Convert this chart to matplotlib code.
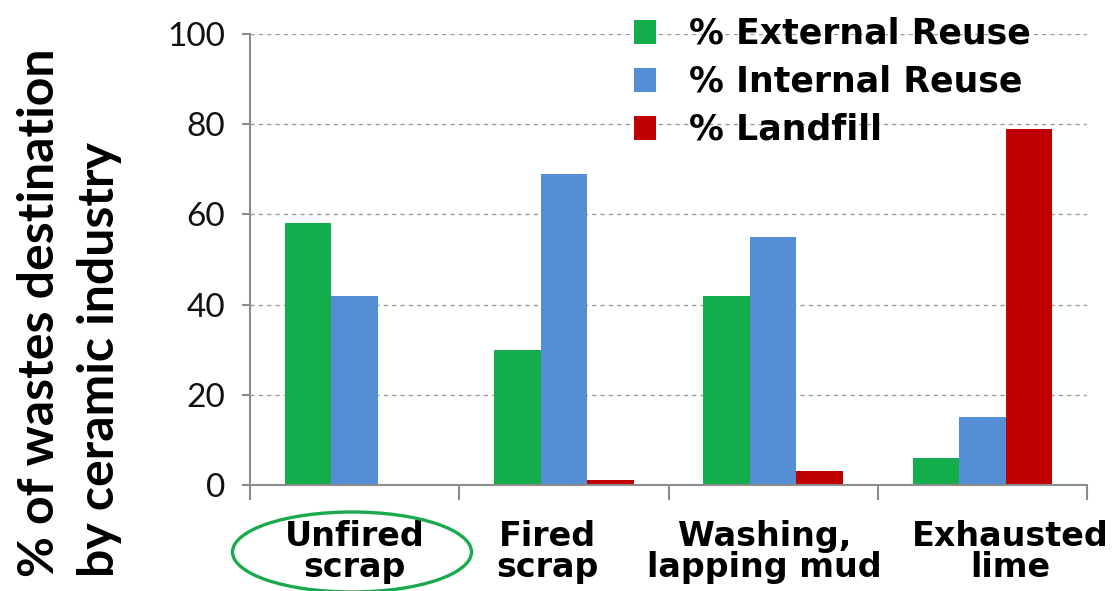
import matplotlib.pyplot as plt
from matplotlib.patches import Ellipse
from matplotlib.transforms import blended_transform_factory
import numpy as np

categories = ['Unfired\nscrap', 'Fired\nscrap', 'Washing,\nlapping mud', 'Exhausted\nlime']
label_shift = [0.0, -0.077, -0.04, 0.134]
external_reuse = [58, 30, 42, 6]
internal_reuse = [42, 69, 55, 15]
landfill = [0, 1, 3, 79]
series_labels = ['% External Reuse', '% Internal Reuse', '% Landfill']
colors = ['#14ad4c', '#558ed5', '#c00000']

fig = plt.figure(figsize=(11.19, 5.91), dpi=100)
ax = fig.add_axes([250 / 1119, 1 - 485 / 591, 837 / 1119, 451 / 591])

x = np.arange(len(categories))
w = 0.222
bars = []
for i, vals in enumerate([external_reuse, internal_reuse, landfill]):
    bars.append(ax.bar(x + (i - 1) * w, vals, w, color=colors[i], zorder=2))

ax.set_xlim(-0.5, 3.5)
ax.set_ylim(0, 100)
ax.set_yticks([0, 20, 40, 60, 80, 100])
ax.yaxis.grid(True, color='#9a9a9a', linestyle=(0, (3, 3)), linewidth=1, zorder=0)

for s in ['top', 'right']:
    ax.spines[s].set_visible(False)
for s in ['left', 'bottom']:
    ax.spines[s].set_color('#8c8c8c')
    ax.spines[s].set_linewidth(1.5)

# category boundaries get the tick marks, names are placed as text below
ax.set_xticks(np.arange(-0.5, 4.0, 1.0))
ax.set_xticklabels([])
ax.tick_params(axis='x', length=11, width=1.5, color='#8c8c8c')
trans = blended_transform_factory(ax.transData, ax.transAxes)
for xi, name, dx in zip(x, categories, label_shift):
    ax.text(xi + dx, -0.077, name, transform=trans, ha='center', va='top',
            fontfamily='DejaVu Sans', fontweight='bold', fontsize=24,
            linespacing=0.95, multialignment='center')

ax.tick_params(axis='y', length=6, width=1.5, color='#8c8c8c', pad=12,
               labelsize=24)
for lab in ax.get_yticklabels():
    lab.set_fontfamily('Lato')
    lab.set_color('#111111')

ax.legend([b[0] for b in bars], series_labels, loc='upper left',
          bbox_to_anchor=(634 / 1119, 1 - 17 / 591), bbox_transform=fig.transFigure,
          frameon=False, borderpad=0, borderaxespad=0,
          handlelength=0.62, handleheight=0.68, handletextpad=0.95,
          labelspacing=0.4, prop={'family': 'DejaVu Sans', 'weight': 'bold', 'size': 25})

# two-line y label, left-aligned along the bottom
fig.text(40 / 1119, 1 - 577 / 591, '% of wastes destination', rotation=90,
         ha='center', va='bottom', fontfamily='Lato', fontweight='bold', fontsize=36)
fig.text(100 / 1119, 1 - 577 / 591, 'by ceramic industry', rotation=90,
         ha='center', va='bottom', fontfamily='Lato', fontweight='bold', fontsize=36)

fig.patches.append(Ellipse((352 / 1119, 1 - 552 / 591), 239 / 1119, 80 / 591,
                           transform=fig.transFigure, fill=False,
                           edgecolor='#1ca84c', linewidth=2.4))

fig.savefig('out.png', dpi=100)
